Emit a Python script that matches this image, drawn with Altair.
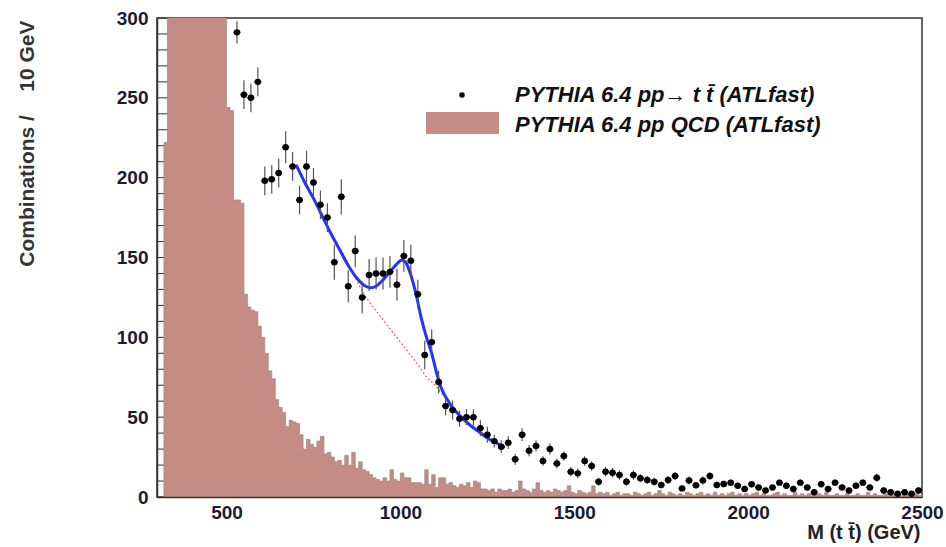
import altair as alt
import pandas as pd

FONT = "Liberation Sans"

# ---------------- data ----------------
# QCD background histogram, 10 GeV bins (lower edges 300 ... 2490)
qcd_edges = list(range(300, 2500, 10))
qcd_counts = [
    0, 0, 222, 480, 620, 700, 720, 700, 680, 650,
    610, 580, 540, 500, 470, 430, 400, 370, 340, 315,
    244, 242, 186, 186, 184, 127, 119, 117, 116, 107,
    100, 90, 79, 74, 61, 56, 53, 44, 48, 47,
    46, 39, 30, 36, 33, 31, 35, 38, 27, 28,
    25, 22, 23, 20, 26, 20, 28, 18, 22, 17,
    16, 14, 12, 11, 10, 12, 10, 17, 11, 10,
    15, 12, 12, 9, 9, 9, 8, 17, 8, 14,
    6, 12, 12, 8, 9, 7, 6, 8, 7, 9,
    6, 10, 9, 5, 5, 4, 5, 3, 5, 4,
    4, 5, 3, 4, 10, 5, 4, 3, 5, 9,
    4, 3, 4, 3, 5, 4, 3, 4, 7, 3,
    2, 4, 3, 2, 3, 7, 2, 3, 2, 3,
    1, 2, 3, 1, 2, 2, 1, 3, 2, 1,
    2, 3, 1, 2, 4, 2, 1, 3, 2, 1,
    2, 1, 3, 2, 1, 2, 3, 1, 2, 1,
    3, 1, 2, 1, 2, 3, 1, 2, 1, 2,
    1, 2, 3, 1, 2, 1, 1, 2, 3, 1,
    2, 1, 1, 3, 1, 2, 1, 2, 1, 1,
    2, 1, 3, 1, 1, 2, 1, 1, 2, 1,
    1, 2, 1, 1, 3, 1, 2, 1, 1, 2,
    1, 1, 2, 1, 1, 2, 1, 1, 2, 1,
]

# ttbar signal points (20 GeV bins)
tt_mass = list(range(530, 2500, 20))
tt_counts = [
    291, 252, 250, 260, 198, 199, 203, 219, 207, 186,
    207, 197, 183, 175, 147, 188, 132, 154, 125, 139,
    140, 140, 141, 133, 151, 148, 127, 89, 97, 72,
    57, 54.5, 49, 50, 50, 43, 39, 35, 31.5, 34,
    23.6, 39, 29, 32, 22.5, 30, 21, 25.7, 15.8, 14.8,
    22.5, 19.4, 9.6, 15.8, 15.2, 13.8, 9.6, 13.8, 11.7, 10.6,
    9.6, 7.5, 10.6, 13.2, 5.4, 10.4, 7.3, 10.4, 13.2, 7.5,
    8.1, 9, 7, 5, 8, 6, 4, 6, 9, 7,
    5, 9, 6, 3, 8, 5, 9, 6, 4, 7,
    9, 6, 12, 4, 3, 2, 3, 2, 4,
]
tt_errors = [
    7, 9, 9, 9, 9, 9, 9, 10, 9, 9,
    10, 9, 9, 9, 11, 11, 10, 10, 10, 10,
    10, 10, 10, 10, 10, 10, 9, 9, 8, 7,
    6, 6, 5, 5, 5, 5, 5, 4, 4, 4,
    3.5, 4, 3.5, 3.5, 3, 3.5, 3, 3, 3, 3,
    3, 3, 2.5, 3, 3, 3, 2.5, 3, 2.5, 2.5,
    2.5, 2, 2.5, 2.5, 2, 2.5, 2, 2.5, 2.5, 2,
    2, 2, 2, 2, 2, 2, 2, 2, 2, 2,
    2, 2, 2, 2, 2, 2, 2, 2, 2, 2,
    2, 2, 2.5, 2, 2, 1.5, 2, 1.5, 2,
]

# fit (signal + background) and background-only curves
fit_mass = [700, 725, 750, 775, 800, 825, 850, 875, 900, 915, 930, 950, 970, 990,
            1004, 1015, 1030, 1045, 1060, 1075, 1090, 1105, 1120, 1135, 1150,
            1175, 1200, 1225, 1250, 1275, 1300]
fit_vals = [208, 197, 187, 176, 165, 155, 145, 137, 132, 131, 132, 136, 141, 146,
            148.5, 147, 139, 127, 112, 100, 90, 77, 67, 61, 56,
            50, 45, 41, 37, 34, 31]
bkg_mass = [700, 750, 800, 850, 893, 950, 1000, 1050, 1076, 1100, 1125, 1150,
            1175, 1200, 1250, 1300]
bkg_vals = [208, 187, 166, 146, 128, 111, 97, 83, 75, 70, 63, 57,
            51, 46, 38, 31]

y_label_values = [0, 50, 100, 150, 200, 250, 300]
y_tick_values = [0, 10, 20, 30, 40, 50, 60, 70, 80, 90, 100, 110, 120, 130, 140,
                 150, 160, 170, 180, 190, 200, 210, 220, 230, 240, 250, 260, 270,
                 280, 290, 300]
x_label_values = [500, 1000, 1500, 2000, 2500]

legend_labels = ["PYTHIA 6.4 pp\u2192 t t\u0304 (ATLfast)",
                 "PYTHIA 6.4 pp QCD  (ATLfast)"]

# ---------------- tables ----------------
hist_df = pd.DataFrame({"m": qcd_edges + [2500],
                        "n": qcd_counts + [qcd_counts[-1]]})
tt_df = pd.DataFrame({"m": tt_mass, "n": tt_counts, "e": tt_errors})
fit_df = pd.DataFrame({"m": fit_mass, "n": fit_vals})
bkg_df = pd.DataFrame({"m": bkg_mass, "n": bkg_vals})
ytick_df = pd.DataFrame({"n": y_tick_values})

XSC = alt.Scale(domain=[300, 2500], nice=False, zero=False)
YSC = alt.Scale(domain=[0, 300], nice=False, zero=False)

x_axis = alt.Axis(values=x_label_values, format="d", title="M (t t\u0304) (GeV)",
                  ticks=False, tickSize=0, grid=False, zindex=1,
                  domainColor="#333333", domainWidth=1.5,
                  labelFont=FONT, labelFontSize=19, labelFontWeight="bold",
                  labelColor="#1a1a33", labelPadding=6, labelFlush=False,
                  titleFont=FONT, titleFontSize=20, titleFontWeight="bold",
                  titleColor="#222222", titleAlign="right", titleAnchor="end",
                  titleX=763, titleY=45, titleBaseline="bottom")
y_axis = alt.Axis(values=y_label_values, format="d",
                  title="Combinations /\u00a0\u00a0\u00a0 10 GeV",
                  ticks=False, tickSize=0, grid=False, zindex=1,
                  domainColor="#333333", domainWidth=1.5,
                  labelFont=FONT, labelFontSize=19, labelFontWeight="bold",
                  labelColor="#1a1a33", labelPadding=9, labelFlush=False,
                  titleFont=FONT, titleFontSize=21, titleFontWeight="bold",
                  titleColor="#333333", titleAngle=-90, titleAlign="right",
                  titleBaseline="middle", titleX=-130, titleY=2)


def X(field):
    return alt.X(field, type="quantitative", scale=XSC, axis=x_axis)


def Y(field):
    return alt.Y(field, type="quantitative", scale=YSC, axis=y_axis)


ticks = alt.Chart(ytick_df).mark_rule(color="#333333", strokeWidth=1).encode(
    y=Y("n"), x=alt.value(0), x2=alt.value(12))

hist = alt.Chart(hist_df).mark_area(interpolate="step-after", color="#c48c84",
                                    clip=True).encode(x=X("m"), y=Y("n"))
hist_edge = alt.Chart(hist_df).mark_line(interpolate="step-after", color="#a58a86",
                                         strokeWidth=0.8, clip=True).encode(
    x=X("m"), y=Y("n"))

bkg = alt.Chart(bkg_df).mark_line(color="#ff5a5a", strokeWidth=1.2,
                                  strokeDash=[2, 2], interpolate="monotone").encode(
    x=X("m"), y=Y("n"))

fit = alt.Chart(fit_df).mark_line(color="#2233ff", strokeWidth=3,
                                  interpolate="monotone").encode(
    x=X("m"), y=Y("n"))

err_v = alt.Chart(tt_df).transform_calculate(
    lo="datum.n - datum.e", hi="datum.n + datum.e").mark_rule(
    color="#555555", strokeWidth=1.2, clip=True).encode(
    x=X("m"), y=Y("lo:Q"), y2="hi:Q")
err_h = alt.Chart(tt_df).transform_calculate(
    xl="datum.m - 10", xh="datum.m + 10").mark_rule(
    color="#111111", strokeWidth=1.5, clip=True).encode(
    x=X("xl:Q"), x2="xh:Q", y=Y("n"))
pts = alt.Chart(tt_df).mark_point(filled=True, shape="circle", size=42,
                                  color="#000000", opacity=1, clip=True).encode(
    x=X("m"), y=Y("n"))

leg_pt = alt.Chart(pd.DataFrame({"k": [0]})).mark_point(
    filled=True, shape="circle", size=30, color="#000000", opacity=1).encode(
    x=alt.value(305), y=alt.value(77))
leg_rect = alt.Chart(pd.DataFrame({"k": [0]})).mark_rect(color="#c48c84").encode(
    x=alt.value(269), x2=alt.value(342), y=alt.value(94), y2=alt.value(116))
leg_t1 = alt.Chart(pd.DataFrame({"label": [legend_labels[0]]})).mark_text(
    align="left", baseline="middle", font=FONT, fontSize=22, fontStyle="italic",
    fontWeight="bold", color="#111111").encode(
    x=alt.value(358), y=alt.value(77), text="label:N")
leg_t2 = alt.Chart(pd.DataFrame({"label": [legend_labels[1]]})).mark_text(
    align="left", baseline="middle", font=FONT, fontSize=22, fontStyle="italic",
    fontWeight="bold", color="#111111").encode(
    x=alt.value(358), y=alt.value(107), text="label:N")

chart = alt.layer(
    ticks, hist, hist_edge, bkg, fit, err_v, err_h, pts,
    leg_pt, leg_rect, leg_t1, leg_t2
).properties(
    width=765, height=479,
    padding={"left": 157, "top": 18, "right": 24, "bottom": 50},
    autosize=alt.AutoSizeParams(type="none"),
    background="white",
).configure_view(stroke="#333333", strokeWidth=1.5)

chart.save("out.html", embed_options={"renderer": "svg", "actions": False})
